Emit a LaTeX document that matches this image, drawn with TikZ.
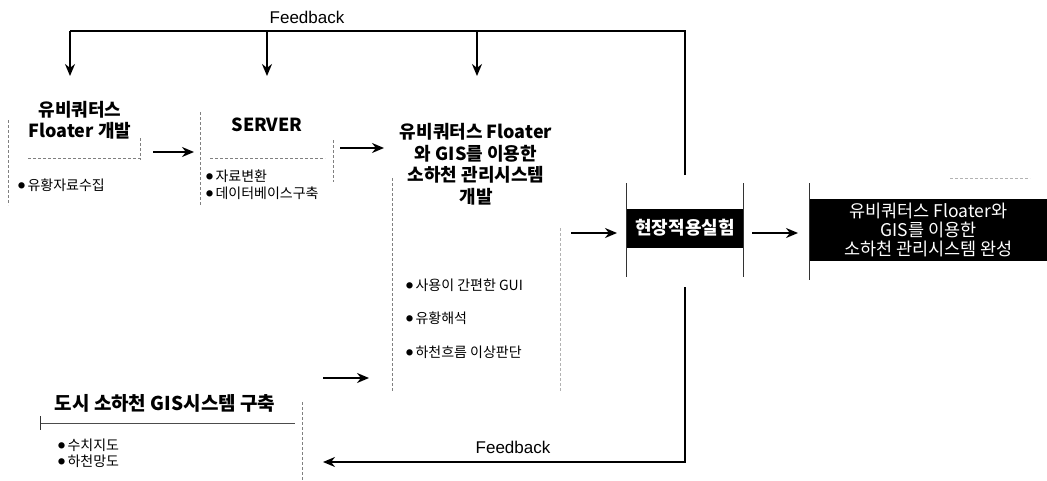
\documentclass[tikz,border=0pt]{standalone}
\usepackage{fontspec}
\setmainfont{Liberation Sans}
\newfontfamily\kr{Noto Sans CJK KR}
\usetikzlibrary{arrows.meta}
\tikzset{
  flow/.style={line width=1.8pt,-{Stealth[length=12pt,width=10pt]}},
  fbline/.style={line width=1.8pt},
  frame/.style={gray,densely dashed,line width=0.6pt},
  thinframe/.style={black!80,line width=0.7pt},
  ttl/.style={font=\kr\bfseries\fontsize{18}{21.5}\selectfont,align=center},
  item/.style={font=\kr\fontsize{14}{16}\selectfont,anchor=west,inner sep=0pt},
  blk/.style={fill=black,text=white,inner sep=0pt,align=center}
}
\newcommand{\bul}{\raisebox{1.5pt}{\fontsize{7}{7}\selectfont ●}\,}
\begin{document}
\begin{tikzpicture}[x=1pt,y=-1pt]
\useasboundingbox (0,0) rectangle (1047,480);
% feedback on top
\node (fbtop) at (307,17) {\fontsize{17}{19}\selectfont Feedback};
\coordinate (tr) at (685,31);
\coordinate (tt) at (685,175);
\coordinate (d1) at (70,31);
\coordinate (d2) at (267,31);
\coordinate (d3) at (477,31);
\coordinate (e1) at (70,76);
\coordinate (e2) at (267,76);
\coordinate (e3) at (477,76);
\draw[fbline] (tt) -- (tr) -- (d1);
\draw[flow] (d1) -- (e1);
\draw[flow] (d2) -- (e2);
\draw[flow] (d3) -- (e3);

% floater
\node[ttl] (floater) at (80,120) {유비쿼터스\\Floater 개발};
\draw[frame] (8,120) -- (8,205);
\draw[frame] (28,158) -- (140,158);
\draw[frame] (140,138) -- (140,160);
\node[item] (f1) at (18,185) {\bul 유황자료수집};

% server
\node[ttl] (server) at (267,125) {SERVER};
\draw[frame] (200,112) -- (200,205);
\draw[frame] (210,158) -- (325,158);
\draw[frame] (333,140) -- (333,182);
\node[item] (s1) at (206,176) {\bul 자료변환};
\node[item] (s2) at (206,193) {\bul 데이터베이스구축};

% system development
\node[ttl] (dev) at (476,164) {유비쿼터스 Floater\\와 GIS를 이용한\\소하천 관리시스템\\개발};
\draw[frame] (392,178) -- (392,392);
\draw[frame,gray!60] (560,228) -- (560,392);
\node[item] (v1) at (406,285) {\bul 사용이 간편한 GUI};
\node[item] (v2) at (406,318) {\bul 유황해석};
\node[item] (v3) at (406,352) {\bul 하천흐름 이상판단};

% field test
\node[blk,minimum width=116pt,minimum height=39pt,
  font=\kr\bfseries\fontsize{18}{20}\selectfont] (test) at (685,228) {현장적용실험};
\draw[thinframe] (test.west |- 0,183) -- (test.west |- 0,277);
\draw[thinframe] (test.east |- 0,183) -- (test.east |- 0,277);

% result
\node[blk,minimum width=237pt,minimum height=62pt,
  font=\kr\fontsize{17.5}{19}\selectfont] (done) at (928.5,230)
  {유비쿼터스 Floater와\\GIS를 이용한\\소하천 관리시스템 완성};
\draw[thinframe] (done.west |- 0,183) -- (done.west |- 0,280);
\draw[frame,gray!60] (950,178) -- (1030,178);

% city GIS
\node[ttl,font=\kr\bfseries\fontsize{19}{22}\selectfont] (gis) at (165,403) {도시 소하천 GIS시스템 구축};
\draw[thinframe,black!70] (40,423) -- (295,423);
\draw[thinframe] (40,416) -- (40,430);
\draw[frame] (302,402) -- (302,480);
\node[item] (g1) at (58,445) {\bul 수치지도};
\node[item] (g2) at (58,461) {\bul 하천망도};

% flow arrows
\coordinate (a0) at (153,152); \coordinate (a1) at (194,152);
\coordinate (b0) at (340,148); \coordinate (b1) at (384,148);
\coordinate (c0) at (571,233); \coordinate (c1) at (617,233);
\coordinate (h0) at (752,233); \coordinate (h1) at (798,233);
\coordinate (k0) at (323,378); \coordinate (k1) at (369,378);
\draw[flow] (a0) -- (a1);
\draw[flow] (b0) -- (b1);
\draw[flow] (c0) -- (c1);
\draw[flow] (h0) -- (h1);
\draw[flow] (k0) -- (k1);

% feedback at the bottom
\coordinate (bt) at (685,287);
\coordinate (br) at (685,462);
\coordinate (bl) at (323,462);
\draw[flow] (bt) -- (br) -- (bl);
\node (fbbot) at (513,447) {\fontsize{17}{19}\selectfont Feedback};
\end{tikzpicture}
\end{document}
